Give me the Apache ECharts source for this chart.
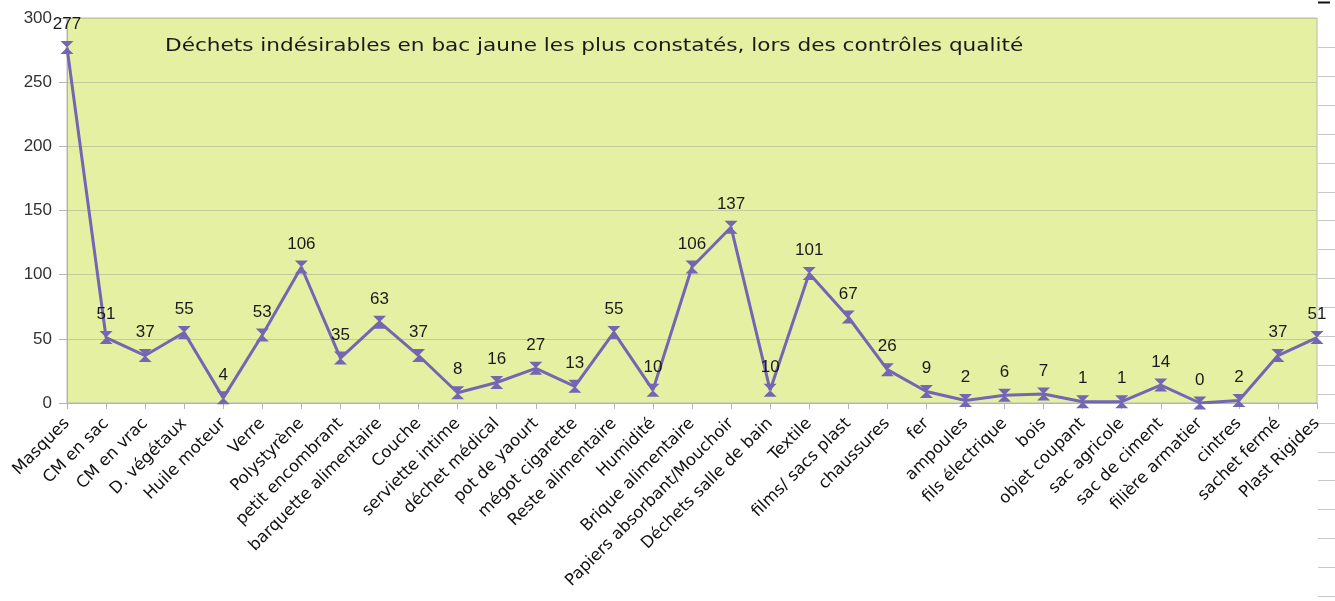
<!DOCTYPE html>
<html>
<head>
<meta charset="utf-8">
<script src="https://cdn.jsdelivr.net/npm/echarts@6/dist/echarts.min.js"></script>
<style>
  html, body { margin: 0; padding: 0; background: #fff; }
  #chart { width: 1335px; height: 601px; }
</style>
</head>
<body>
<div id="chart"></div>
<script>
// categories and counts
var categories = [
    'Masques', 'CM en sac', 'CM en vrac', 'D. végétaux', 'Huile moteur', 'Verre',
    'Polystyrène', 'petit encombrant', 'barquette alimentaire', 'Couche',
    'serviette intime', 'déchet médical', 'pot de yaourt', 'mégot cigarette',
    'Reste alimentaire', 'Humidité', 'Brique alimentaire', 'Papiers absorbant/Mouchoir',
    'Déchets salle de bain', 'Textile', 'films/ sacs plast', 'chaussures', 'fer',
    'ampoules', 'fils électrique', 'bois', 'objet coupant', 'sac agricole',
    'sac de ciment', 'filière armatier', 'cintres', 'sachet fermé', 'Plast Rigides'
];
var counts = [277, 51, 37, 55, 4, 53, 106, 35, 63, 37, 8, 16, 27, 13, 55, 10, 106,
    137, 10, 101, 67, 26, 9, 2, 6, 7, 1, 1, 14, 0, 2, 37, 51];
var yTicks = [0, 50, 100, 150, 200, 250, 300];

var titleText = 'Déchets indésirables en bac jaune les plus constatés, lors des contrôles qualité';
var font = 'DejaVu Sans';
var numFont = 'Liberation Sans';

// the title is drawn a bit stretched, like in the original export
var decor = [{
    type: 'text',
    left: 165,
    top: 37,
    scaleX: 1.2,
    style: {
        text: titleText,
        font: '18px "DejaVu Sans"',
        fill: '#1a1a1a'
    }
}];
// little grey ticks along the right edge of the picture
for (var y = 47; y < 601; y += 28.9) {
    decor.push({
        type: 'line',
        shape: {x1: 1318, y1: Math.round(y) + 0.5, x2: 1335, y2: Math.round(y) + 0.5},
        style: {stroke: '#c8c8c8', lineWidth: 1}
    });
}
decor.push({
    type: 'line',
    shape: {x1: 1318, y1: 2.5, x2: 1330, y2: 2.5},
    style: {stroke: '#111', lineWidth: 2}
});

var myChart = echarts.init(document.getElementById('chart'));
myChart.setOption({
    animation: false,
    textStyle: {fontFamily: font},
    graphic: decor,
    grid: {
        left: 67,
        right: 18,
        top: 18,
        bottom: 198,
        show: true,
        backgroundColor: '#e6f0a2',
        borderColor: '#b8b8b8',
        borderWidth: 1
    },
    xAxis: {
        type: 'category',
        data: categories,
        boundaryGap: false,
        axisLine: {lineStyle: {color: '#b3b3b3', width: 1}},
        axisTick: {show: true, interval: 0, length: 6, lineStyle: {color: '#b3b3b3'}},
        axisLabel: {
            interval: 0,
            rotate: 45,
            margin: 18,
            fontSize: 16.5,
            fontFamily: font,
            color: '#111'
        }
    },
    yAxis: {
        type: 'value',
        min: yTicks[0],
        max: yTicks[yTicks.length - 1],
        interval: 50,
        axisLine: {show: true, lineStyle: {color: '#b3b3b3'}},
        axisTick: {show: true, length: 8, lineStyle: {color: '#b3b3b3'}},
        axisLabel: {fontSize: 17, fontFamily: numFont, color: '#333', margin: 15},
        splitLine: {lineStyle: {color: '#c2c99a', width: 1}}
    },
    series: [{
        name: 'Déchets',
        type: 'line',
        data: counts,
        symbol: 'path://M0,0L10,0L5,5L10,10L0,10L5,5Z',
        symbolSize: [13, 13],
        showAllSymbol: true,
        lineStyle: {color: '#7366b2', width: 3},
        itemStyle: {color: '#7366b2'},
        label: {
            show: true,
            position: 'top',
            distance: 8,
            fontSize: 17,
            fontFamily: numFont,
            color: '#1a1a1a'
        }
    }]
});
</script>
</body>
</html>
